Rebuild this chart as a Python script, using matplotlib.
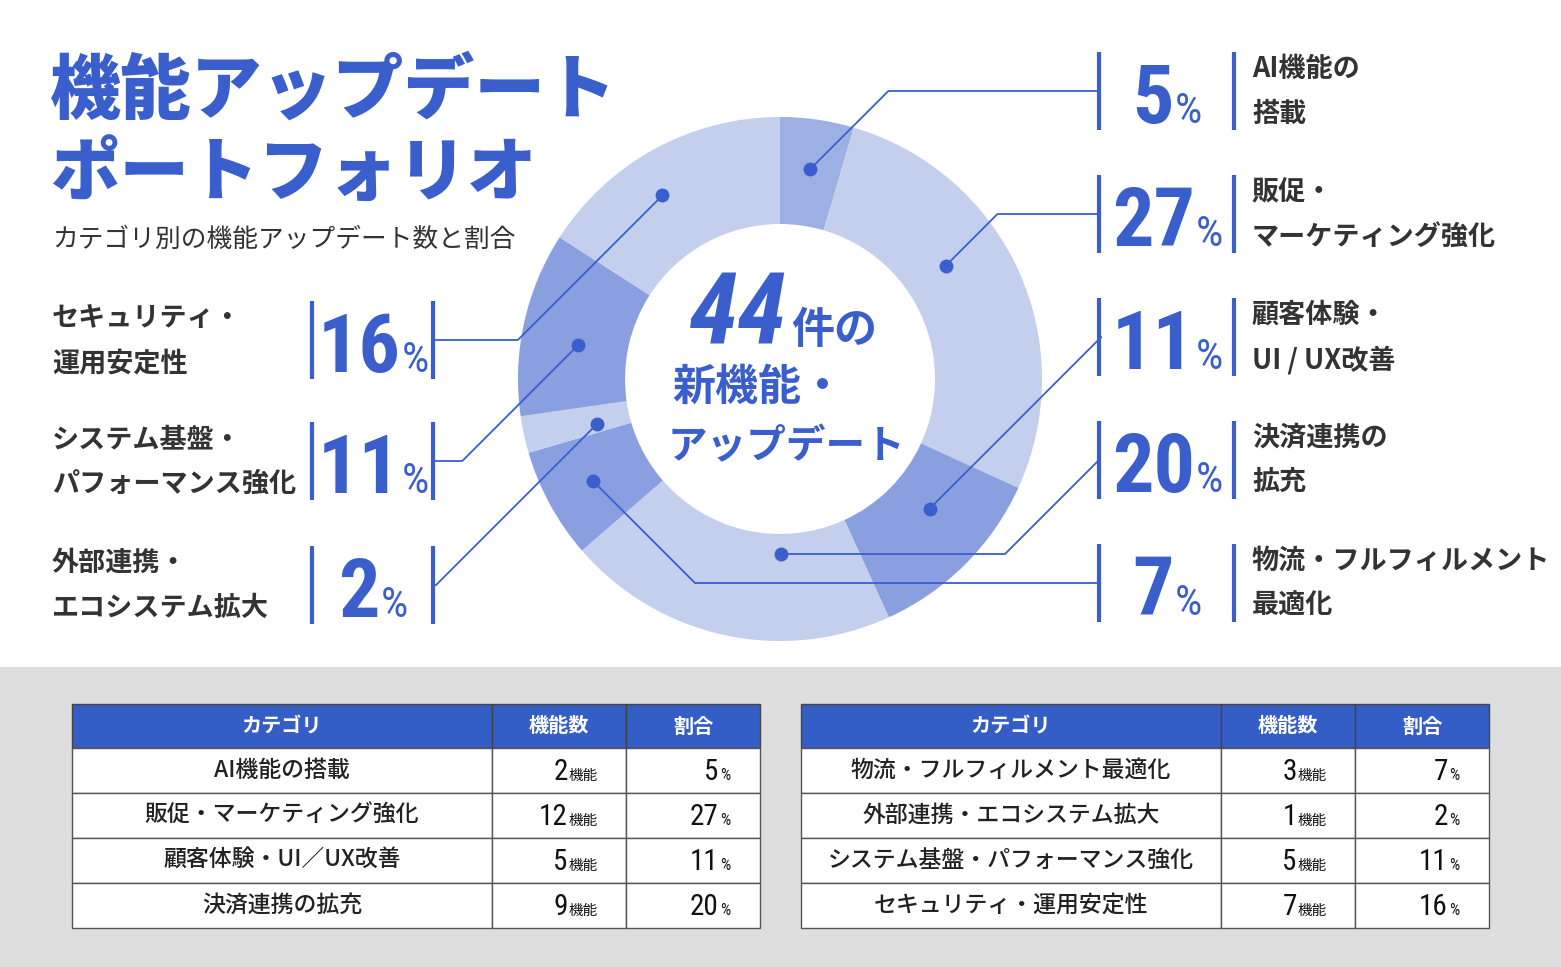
import numpy as np
import matplotlib
matplotlib.use("Agg")
import matplotlib.pyplot as plt
from matplotlib import font_manager
from matplotlib.patches import Rectangle

# ---- data ----
categories = ["AI機能の搭載", "販促・マーケティング強化", "顧客体験・UI／UX改善", "決済連携の拡充",
              "物流・フルフィルメント最適化", "外部連携・エコシステム拡大",
              "システム基盤・パフォーマンス強化", "セキュリティ・運用安定性"]
donut_labels = [("AI機能の", "搭載"), ("販促・", "マーケティング強化"), ("顧客体験・", "UI / UX改善"),
                ("決済連携の", "拡充"), ("物流・フルフィルメント", "最適化"), ("外部連携・", "エコシステム拡大"),
                ("システム基盤・", "パフォーマンス強化"), ("セキュリティ・", "運用安定性")]
counts = [2, 12, 5, 9, 3, 1, 5, 7]
shares = [5, 27, 11, 20, 7, 2, 11, 16]
total = 44

title_lines = ["機能アップデート", "ポートフォリオ"]
subtitle = "カテゴリ別の機能アップデート数と割合"
center_lines = ["44", "件の", "新機能・", "アップデート"]
table_head = ["カテゴリ", "機能数", "割合"]

# ---- style / layout ----
W, H = 1561, 967
BLUE = "#3a5fcd"
DARK = "#333333"
LIGHT, MID, DEEP = "#c4cfee", "#9db0e4", "#8a9fe0"
slice_colors = [MID, LIGHT, DEEP, LIGHT, DEEP, LIGHT, DEEP, LIGHT]
CX, CY, R_OUT, RING = 780, 379, 262, 107

# dot placement inside each slice (fraction of slice, radius)
dot_frac = [0.5, 0.40, 0.40, 0.33, 0.5, 0.32, 0.43, 0.43]
dot_rad = [212, 201, 198, 175, 213, 188, 205, 218]
# label side, label centre y, route ('d' = diagonal then horizontal, 'h' = horizontal first)
side = ["R", "R", "R", "R", "R", "L", "L", "L"]
label_y = [91, 214, 337, 460, 583, 585, 461, 340]
route = ["d", "d", "d", "h", "d", "d", "d", "d"]

JP = ["Noto Sans CJK JP", "DejaVu Sans"]
names = {f.name for f in font_manager.fontManager.ttflist}
NUM = {"family": "DejaVu Sans", "fontstretch": "condensed"}
for cand in ["Roboto Condensed", "Liberation Sans Narrow"]:
    if cand in names:
        NUM = {"family": [cand, "Noto Sans CJK JP"]}
        break

fig = plt.figure(figsize=(W / 100, H / 100), dpi=100)
ax = fig.add_axes([0, 0, 1, 1])
renderer = fig.canvas.get_renderer()

ax.add_patch(Rectangle((0, 667), W, H - 667, color="#dedede", lw=0, zorder=0))

ax.pie(counts, colors=slice_colors, startangle=-90, counterclock=True,
       radius=R_OUT, center=(CX, CY), wedgeprops=dict(width=RING, linewidth=0))
ax.set_xlim(0, W)
ax.set_ylim(H, 0)
ax.set_aspect("equal")
ax.axis("off")


def combo(x, y, big, small, big_kw, small_kw, align="center", gap=2):
    t1 = ax.text(x, y, big, ha="left", va="baseline", **big_kw)
    t2 = ax.text(x, y, small, ha="left", va="baseline", **small_kw)
    w1 = t1.get_window_extent(renderer).width
    w2 = t2.get_window_extent(renderer).width
    span = w1 + gap + w2
    x0 = x - span / 2 if align == "center" else x - span
    t1.set_x(x0)
    t2.set_x(x0 + w1 + gap)


# title
ax.text(50, 92, title_lines[0], fontsize=51, fontweight="heavy", color=BLUE, family=JP, va="center")
ax.text(50, 175, title_lines[1], fontsize=50, fontweight="heavy", color=BLUE, family=JP, va="center")
ax.text(52, 240, subtitle, fontsize=18.5, color=DARK, family=JP, va="center")

# centre text
combo(783, 343, center_lines[0], center_lines[1],
      dict(fontsize=72, fontweight="bold", style="italic", color=BLUE, **NUM),
      dict(fontsize=31, fontweight="bold", color=BLUE, family=JP), gap=4)
ax.text(672, 387, center_lines[2], fontsize=31, fontweight="bold", color=BLUE, family=JP, va="center")
ax.text(668, 447, center_lines[3], fontsize=28.5, fontweight="bold", color=BLUE, family=JP, va="center")

# leaders, bars, percentages, labels
cum = np.concatenate([[0], np.cumsum(counts)])
for i in range(len(counts)):
    a = np.radians((cum[i] + dot_frac[i] * counts[i]) / total * 360)
    dx, dy = CX + dot_rad[i] * np.sin(a), CY - dot_rad[i] * np.cos(a)
    yc = label_y[i]
    if side[i] == "R":
        bx, b1, b2, tx = 1099, 1099, 1234, 1252
        sgn = 1
    else:
        bx, b1, b2, tx = 433, 312, 433, 52
        sgn = -1
    rise = abs(yc - dy)
    if route[i] == "d":
        ex = dx + sgn * rise
        xs, ys = [dx, ex, bx], [dy, yc, yc]
    else:
        ex = bx - sgn * rise
        xs, ys = [dx, ex, bx], [dy, dy, yc]
    ax.plot(xs, ys, color=BLUE, lw=1.3, solid_capstyle="butt", zorder=3)
    ax.plot(dx, dy, "o", ms=9, color=BLUE, zorder=4)
    for bb in (b1, b2):
        ax.plot([bb, bb], [yc - 39, yc + 39], color=BLUE, lw=3, solid_capstyle="butt")
    combo((b1 + b2) / 2 + 1, yc + 32, str(shares[i]), "%",
          dict(fontsize=59, fontweight="bold", color=BLUE, **NUM),
          dict(fontsize=31, color=BLUE, **NUM), gap=1)
    ax.text(tx, yc - 22, donut_labels[i][0], fontsize=19.5, fontweight="bold", color=DARK, family=JP, va="center")
    ax.text(tx, yc + 23, donut_labels[i][1], fontsize=19.5, fontweight="bold", color=DARK, family=JP, va="center")

# tables
tables = [(72, [0, 1, 2, 3]), (801, [4, 5, 6, 7])]
col_w = [420, 134, 134]
top, head_h, row_h = 704, 44, 45
for x0, rows in tables:
    edges = np.concatenate([[x0], x0 + np.cumsum(col_w)])
    for c in range(3):
        ax.add_patch(Rectangle((edges[c], top), col_w[c], head_h, facecolor="#355dc6",
                               edgecolor="#444444", lw=1, zorder=2))
        ax.text((edges[c] + edges[c + 1]) / 2, top + head_h / 2, table_head[c], fontsize=14.5,
                fontweight="bold", color="white", family=JP, ha="center", va="center", zorder=3)
    for r, k in enumerate(rows):
        y0 = top + head_h + r * row_h
        for c in range(3):
            ax.add_patch(Rectangle((edges[c], y0), col_w[c], row_h, facecolor="white",
                                   edgecolor="#555555", lw=1, zorder=2))
        ax.text((edges[0] + edges[1]) / 2, y0 + row_h / 2, categories[k], fontsize=16.5,
                fontweight="medium", color="#222222", family=JP, ha="center", va="center", zorder=3)
        combo(edges[2] - 28, y0 + 32, str(counts[k]), "機能",
              dict(fontsize=21, color="#111111", zorder=3, **NUM),
              dict(fontsize=10.5, color="#111111", family=JP, zorder=3), align="right", gap=1)
        combo(edges[3] - 30, y0 + 32, str(shares[k]), "%",
              dict(fontsize=21, color="#111111", zorder=3, **NUM),
              dict(fontsize=11.5, color="#111111", zorder=3, **NUM), align="right", gap=1)

fig.savefig("out.png", dpi=100)
